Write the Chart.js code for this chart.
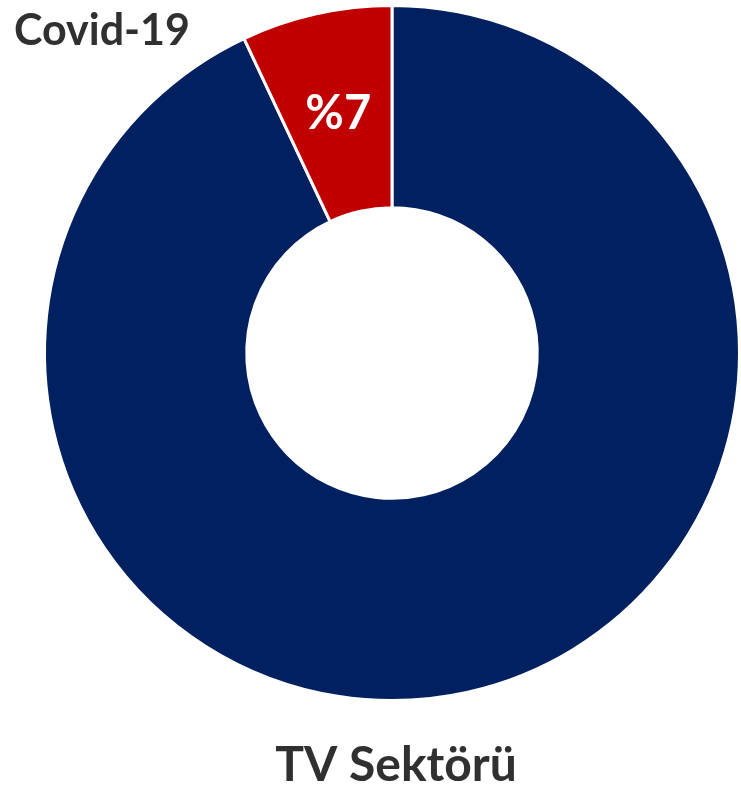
<!DOCTYPE html>
<html>
<head>
<meta charset="utf-8">
<script src="https://cdn.jsdelivr.net/npm/chart.js@4"></script>
<style>
    html, body { margin: 0; padding: 0; background: #ffffff; }
    #wrap { width: 741px; height: 793px; position: relative; }
</style>
</head>
<body>
<div id="wrap"><canvas id="chart"></canvas></div>
<script>
const categories = ["TV Sektörü", "Covid-19"];
const shares = [93, 7];
const sliceColors = ["#002060", "#C00000"];

// category names placed outside the ring, value shown inside the small slice
const labelText = {
    id: 'labelText',
    afterDraw(chart) {
        const ctx = chart.ctx;
        const arcs = chart.getDatasetMeta(0).data;
        ctx.save();
        ctx.textBaseline = 'middle';

        ctx.fillStyle = '#303030';
        ctx.font = 'bold 43px Lato';
        ctx.textAlign = 'left';
        ctx.fillText(categories[1], 14, 31);

        ctx.textAlign = 'center';
        ctx.font = 'bold 48px Lato';
        ctx.fillText(categories[0], 396, 766);

        const pos = arcs[1].tooltipPosition();
        ctx.fillStyle = '#ffffff';
        ctx.font = 'bold 47px Lato';
        ctx.fillText('%' + shares[1], pos.x, pos.y + 1);
        ctx.restore();
    }
};

document.addEventListener('DOMContentLoaded', function() {
    const ctx = document.getElementById('chart');

    new Chart(ctx, {
        type: 'doughnut',
        data: {
            labels: categories,
            datasets: [
                {
                    data: shares,
                    backgroundColor: sliceColors,
                    borderColor: '#ffffff',
                    borderWidth: 3
                }
            ]
        },
        options: {
            responsive: true,
            maintainAspectRatio: false,
            animation: false,
            cutout: '41.8%',
            layout: { padding: { left: 43, right: -4, top: 2, bottom: 89 } },
            plugins: {
                legend: { display: false },
                tooltip: { enabled: false }
            }
        },
        plugins: [labelText]
    });
});
</script>
</body>
</html>
